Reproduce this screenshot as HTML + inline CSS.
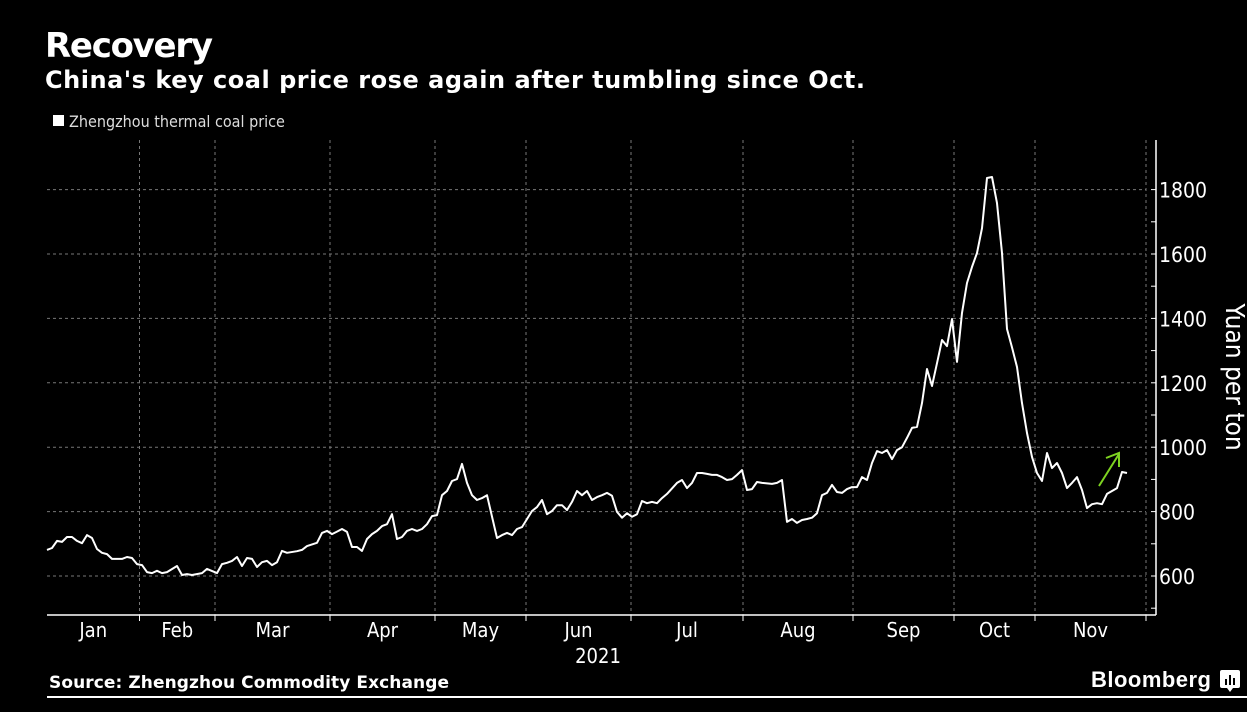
<!DOCTYPE html>
<html><head><meta charset="utf-8"><style>
html,body{margin:0;padding:0;background:#000;}
svg{display:block;}
text{fill:#fff;}
</style></head><body>
<svg id="chart" width="1247" height="712" xmlns="http://www.w3.org/2000/svg">
<rect x="0" y="0" width="1247" height="712" fill="#000"/>
<text x="45" y="57" font-family="DejaVu Sans, Liberation Sans, sans-serif" font-weight="bold" font-size="34" textLength="168">Recovery</text>
<text x="45" y="88" font-family="DejaVu Sans, Liberation Sans, sans-serif" font-weight="bold" font-size="24" textLength="820">China's key coal price rose again after tumbling since Oct.</text>
<g>
<rect x="53" y="115" width="11" height="11" fill="#fff"/>
<text x="69" y="127" font-family="DejaVu Sans Condensed, Liberation Sans Narrow, sans-serif" font-size="16" style="fill:#ddd">Zhengzhou thermal coal price</text>
</g>
<g id="grid"></g>
<g id="axes"></g>
<path id="line" fill="none" stroke="#fff" stroke-width="2" stroke-linejoin="round"/>
<g>
<line x1="1099" y1="486" x2="1119" y2="454" stroke="#7ed321" stroke-width="2"/>
<polyline points="1106,458 1119,453 1119,467" fill="none" stroke="#7ed321" stroke-width="2"/>
</g>
<text x="1226" y="377" transform="rotate(90 1226 377)" text-anchor="middle" font-family="DejaVu Sans Condensed, Liberation Sans Narrow, sans-serif" font-size="26">Yuan per ton</text>
<text x="598" y="663" text-anchor="middle" font-family="DejaVu Sans Condensed, Liberation Sans Narrow, sans-serif" font-size="20">2021</text>
<text x="49" y="688" font-family="DejaVu Sans, Liberation Sans, sans-serif" font-weight="bold" font-size="17" textLength="400">Source: Zhengzhou Commodity Exchange</text>
<rect x="47" y="696" width="1200" height="2" fill="#fff"/>
<text x="1091" y="687" font-family="Liberation Sans, sans-serif" font-weight="bold" font-size="22" textLength="120">Bloomberg</text>
<g>
<rect x="1220" y="670" width="20" height="18" rx="2" fill="#fff"/>
<path d="M1227 688 L1230 692 L1233 688Z" fill="#fff"/>
<rect x="1225" y="679" width="2" height="6" fill="#000"/><rect x="1229" y="675" width="2" height="10" fill="#000"/><rect x="1233" y="678" width="2" height="7" fill="#000"/>
</g>
</svg>
<script>
const days=[0,1,2,3,4,5,6,7,8,9,10,11,12,13,15,16,17,18,19,20,21,22,23,24,26,27,28,29,31,32,34,35,36,37,38,39,40,41,42,43,44,45,46,47,48,50,51,52,53,54,55,56,57,58,59,60,61,62,63,64,65,66,67,68,69,70,71,72,73,74,75,76,77,78,79,80,81,82,83,84,85,86,87,88,90,91,92,93,94,95,97,98,99,100,101,102,103,104,105,106,107,108,109,110,111,112,113,114,115,116,117,118,119,120,121,122,123,124,126,127,128,129,130,131,132,133,134,135,136,137,138,139,140,141,142,143,145,146,147,148,149,150,151,152,153,154,155,156,157,158,159,160,161,162,163,164,165,166,167,168,169,170,171,172,173,174,175,176,177,178,179,180,181,182,183,184,185,186,187,188,189,190,191,192,193,194,195,196,197,198,199,200,201,202,203,204,205,206,207,208,209,210,211,212,213,214,215,216];
const prices=[681,687,709,706,721,721,709,702,727,718,684,672,668,653,653,659,656,637,634,612,609,616,609,612,631,603,606,603,609,622,609,637,641,647,659,631,656,653,628,643,647,634,643,678,672,677,681,693,698,703,734,740,730,738,746,737,690,690,678,715,730,740,755,761,792,715,721,740,746,740,746,761,786,789,851,864,895,901,948,889,851,836,842,851,718,727,734,727,746,752,802,814,836,792,802,820,820,805,830,864,851,864,836,845,851,858,849,799,781,795,784,792,833,826,830,826,842,855,889,898,873,889,920,920,917,914,914,907,898,901,914,929,867,870,892,889,886,889,898,768,777,765,774,777,781,795,851,858,883,861,858,870,876,876,907,898,951,988,982,991,963,991,1000,1029,1060,1063,1137,1243,1190,1261,1333,1314,1398,1265,1417,1510,1560,1603,1680,1836,1839,1758,1603,1367,1310,1249,1137,1044,970,920,895,982,935,951,920,873,889,907,867,811,823,826,823,855,864,873,923,920];
const monthLabels=["Jan","Feb","Mar","Apr","May","Jun","Jul","Aug","Sep","Oct","Nov"];
const monthStartDays=[0,18.5,33.6,56.6,77.6,95.8,116.8,139.2,161.2,181.4,197.6,219.8];
const yTicks=[600,800,1000,1200,1400,1600,1800];
const yMinorTicks=[500,700,900,1100,1300,1500,1700];

const NS="http://www.w3.org/2000/svg";
const x=d=>47+d*5;
const y=v=>576-(v-600)*0.322;
const grid=document.getElementById('grid'), axes=document.getElementById('axes');
function mk(tag,attrs,parent){const e=document.createElementNS(NS,tag);for(const k in attrs)e.setAttribute(k,attrs[k]);parent.appendChild(e);return e;}
yTicks.forEach(v=>{
  const g=mk('line',{x1:47,x2:1146,y1:y(v),y2:y(v),stroke:'#777','stroke-dasharray':'3,3','stroke-width':1},grid);
  
  
  const t=mk('line',{x1:1151,x2:1156,y1:y(v),y2:y(v),stroke:'#fff','stroke-width':1},axes);
  
  
  const l=mk('text',{x:1159,y:y(v)+8,'font-family':'DejaVu Sans Condensed, Liberation Sans Narrow, sans-serif','font-size':21},axes);
  l.textContent=v;
  
  
});
yMinorTicks.forEach(v=>{
  const t=mk('line',{x1:1151,x2:1156,y1:y(v),y2:y(v),stroke:'#fff','stroke-width':1},axes);
  
  
});
monthStartDays.forEach((d,i)=>{
  if(i>0){
    const g=mk('line',{x1:x(d),x2:x(d),y1:140,y2:615,stroke:'#777','stroke-dasharray':'3,3','stroke-width':1},grid);
    
    
    const t=mk('line',{x1:x(d),x2:x(d),y1:615,y2:621,stroke:'#fff','stroke-width':1},axes);
    
    
  }
  if(i<monthLabels.length){
    const l=mk('text',{x:(x(d)+x(monthStartDays[i+1]))/2,y:637,'text-anchor':'middle','font-family':'DejaVu Sans Condensed, Liberation Sans Narrow, sans-serif','font-size':20},axes);
    l.textContent=monthLabels[i];
    
    
  }
});
const xa=mk('line',{x1:47,x2:1156,y1:615,y2:615,stroke:'#fff','stroke-width':1.5},axes);


const ya=mk('line',{x1:1156,x2:1156,y1:140,y2:615,stroke:'#fff','stroke-width':1.5},axes);


document.getElementById('line').setAttribute('d',days.map((d,i)=>(i?'L':'M')+x(d).toFixed(1)+' '+y(prices[i]).toFixed(1)).join(' '));
</script>
</body></html>
